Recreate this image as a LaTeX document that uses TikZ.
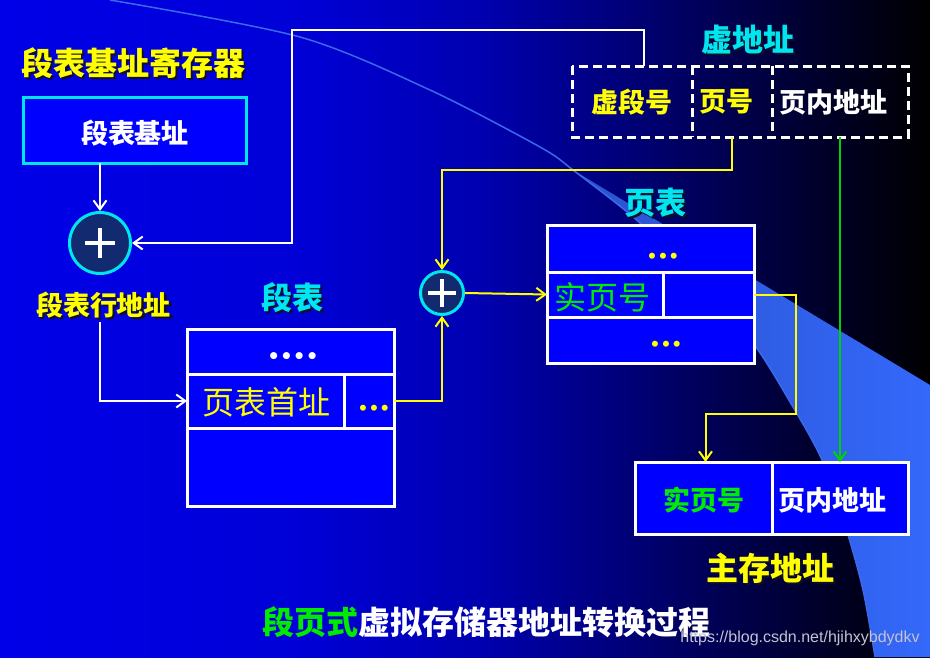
\documentclass[tikz,border=0pt]{standalone}
\usepackage{fontspec}
\newfontfamily\cjk{Noto Sans CJK SC}
\newfontfamily\dvs{DejaVu Sans}
\newfontfamily\wmfont{Liberation Sans}
\usetikzlibrary{arrows.meta}
\definecolor{bgA}{RGB}{0,0,232}
\definecolor{bgB}{RGB}{0,0,215}
\definecolor{bgC}{RGB}{0,0,175}
\definecolor{bgD}{RGB}{0,0,110}
\definecolor{bgE}{RGB}{0,0,50}
\definecolor{bgF}{RGB}{0,0,0}
\pgfdeclarehorizontalshading{bgshade}{100bp}{color(0bp)=(bgA); color(25bp)=(bgA); color(41bp)=(bgB); color(51bp)=(bgC); color(60bp)=(bgD); color(68bp)=(bgE); color(75bp)=(bgF); color(100bp)=(bgF)}
\definecolor{boxblue}{RGB}{0,0,255}
\definecolor{cyanT}{RGB}{0,230,240}
\definecolor{yel}{RGB}{255,255,0}
\definecolor{grn}{RGB}{0,235,0}
\definecolor{grnline}{RGB}{0,210,0}
\definecolor{circfill}{RGB}{18,42,112}
\definecolor{wedgeA}{RGB}{42,82,205}
\definecolor{wedgeB}{RGB}{52,104,250}
\definecolor{arcc}{RGB}{60,105,235}
\definecolor{shadowc}{RGB}{15,15,40}
\definecolor{wmc}{RGB}{195,195,210}
\newcommand\fs[1]{\fontsize{#1}{#1}\selectfont}
\newcommand\shtitle[5]{%
  \node[bt=#3, text=shadowc, xshift=2pt, yshift=-2pt] (#1s) at #2 {#5};
  \node[bt=#3, text=#4] (#1) at #2 {#5};}
\begin{document}
\begin{tikzpicture}[x=1pt,y=-1pt,
  >={Straight Barb[length=9pt,width=13pt]},
  cell/.style={draw=white, line width=3pt, fill=boxblue, inner sep=0pt, outer sep=0pt},
  vcell/.style={inner sep=0pt, outer sep=0pt},
  dashbox/.style={draw=white, line width=3pt, dash pattern=on 9pt off 5pt},
  bt/.style={font=\cjk\bfseries\fs{#1}, inner sep=0pt},
  rt/.style={font=\cjk\fs{#1}, inner sep=0pt},
  dotz/.style={font=\dvs\bfseries\fs{#1}, inner sep=0pt},
  plus/.style={circle, draw=cyanT, line width=3pt, fill=circfill, inner sep=0pt},
  wl/.style={draw=white, line width=2pt},
  yl/.style={draw=yel, line width=2pt},
  gl/.style={draw=grnline, line width=2pt}]
\useasboundingbox (0,0) rectangle (930,657);
% background
\shade[shading=bgshade] (0,0) rectangle (930,657);
\shade[left color=wedgeA, right color=wedgeB] plot[smooth] coordinates {(573,170) (640,223) (700,285) (753,343) (793,407) (822,460) (845,525) (863,590) (875,657)} -- (930,657) -- (930,385) -- cycle;
\draw[arcc, line width=1.5pt] plot[smooth] coordinates {(110,0) (300,37) (430,90) (540,147) (573,170) (640,223) (700,285) (753,343) (793,407) (822,460) (845,525) (863,590) (875,657)};

% titles
\shtitle{t1}{(133.5,63)}{32}{yel}{段表基址寄存器}
\shtitle{sl}{(103.5,305)}{27}{yel}{段表行地址}
\shtitle{t3}{(292.5,298)}{31}{cyanT}{段表}
\shtitle{t4}{(747.5,40)}{31}{cyanT}{虚地址}
\shtitle{t5}{(655,203)}{31}{cyanT}{页表}
\shtitle{t6}{(770,568)}{32}{yel}{主存地址}

% register box
\node[cell, draw=cyanT, minimum width=223pt, minimum height=66pt] (rb) at (134.5,130) {};
\node[bt=27, text=white] (rbt) at (135,133) {段表基址};

% adders
\node[plus, minimum size=61pt] (c1) at (100,243) {};
\draw[white, line width=4pt] ([xshift=-15pt]c1.center) -- ([xshift=15pt]c1.center) ([yshift=-15pt]c1.center) -- ([yshift=15pt]c1.center);
\node[plus, minimum size=43pt] (c2) at (442,293) {};
\draw[white, line width=4pt] ([xshift=-14pt]c2.center) -- ([xshift=14pt]c2.center) ([yshift=-14pt]c2.center) -- ([yshift=14pt]c2.center);

% segment table
\node[cell, minimum width=207pt, minimum height=45pt] (st1) at (290.5,351.5) {};
\node[cell, minimum width=157pt, minimum height=54pt] (st2a) at (265.5,401) {};
\node[cell, minimum width=50pt, minimum height=54pt] (st2b) at (369,401) {};
\node[cell, minimum width=207pt, minimum height=78pt] (st3) at (290.5,467) {};
\node[dotz=20, text=white] (st1d) at (293,358) {••••};
\node[rt=32, text=yel] (st2t) at (266,402) {页表首址};
\node[dotz=17, text=yel] (st2d) at (374,410) {•••};

% page table
\node[cell, minimum width=207pt, minimum height=47pt] (pt1) at (650.5,248.5) {};
\node[cell, minimum width=116pt, minimum height=45pt] (pt2a) at (605,294.5) {};
\node[cell, minimum width=91pt, minimum height=45pt] (pt2b) at (708.5,294.5) {};
\node[cell, minimum width=207pt, minimum height=46pt] (pt3) at (650.5,340) {};
\node[dotz=17, text=yel] (pt1d) at (663,258) {•••};
\node[rt=32, text=grn] (pt2t) at (602,297) {实页号};
\node[dotz=17, text=yel] (pt3d) at (666,346) {•••};

% virtual address (dashed)
\node[vcell, minimum width=120pt, minimum height=71pt] (va) at (632,101.5) {};
\node[vcell, minimum width=80pt, minimum height=71pt] (vb) at (732,101.5) {};
\node[vcell, minimum width=136pt, minimum height=71pt] (vc) at (840,101.5) {};
\draw[dashbox] (va.north west) rectangle (vc.south east);
\draw[dashbox] (va.north east) -- (va.south east) (vb.north east) -- (vb.south east);
\node[bt=27, text=yel] (vat) at (631.5,102) {虚段号};
\node[bt=27, text=yel] (vbt) at (726,102) {页号};
\node[bt=27, text=white] (vct) at (833,102) {页内地址};

% main memory address
\node[cell, minimum width=137pt, minimum height=72pt] (mm1) at (703.5,498) {};
\node[cell, minimum width=136pt, minimum height=72pt] (mm2) at (840,498) {};
\node[bt=27, text=grn] (mm1t) at (704,500) {实页号};
\node[bt=27, text=white] (mm2t) at (832,500) {页内地址};

% caption + watermark
\node[bt=32, text=white] (cap) at (486.5,622) {\textcolor{grn}{段页式}虚拟存储器地址转换过程};
\node[font=\wmfont\fs{16}, text=wmc, inner sep=0pt] (wm) at (800,638) {https://blog.csdn.net/hjihxybdydkv};

% connectors
\coordinate (wturn) at (292,30);
\coordinate (ycorner) at (796,414);
\draw[wl,->] (c1 |- rb.south) -- (c1.north);
\draw[wl,->] ([xshift=12pt]va.north) |- (wturn) |- (c1.east);
\draw[wl,->] ([yshift=-4pt]c1 |- sl.south) |- (st2a.west);
\draw[yl,->] (st2b.east) -| (c2.south);
\draw[yl,->] (vb.south) -- ++(0,33) -| (c2.north);
\draw[yl,->] (c2.east) -- (pt2a.west);
\draw[yl,->] (pt2b.east) -| (ycorner) -| ([xshift=2pt]mm1.north);
\draw[gl,->] (vc.south) -- (vc.south |- mm2.north);
\end{tikzpicture}
\end{document}
